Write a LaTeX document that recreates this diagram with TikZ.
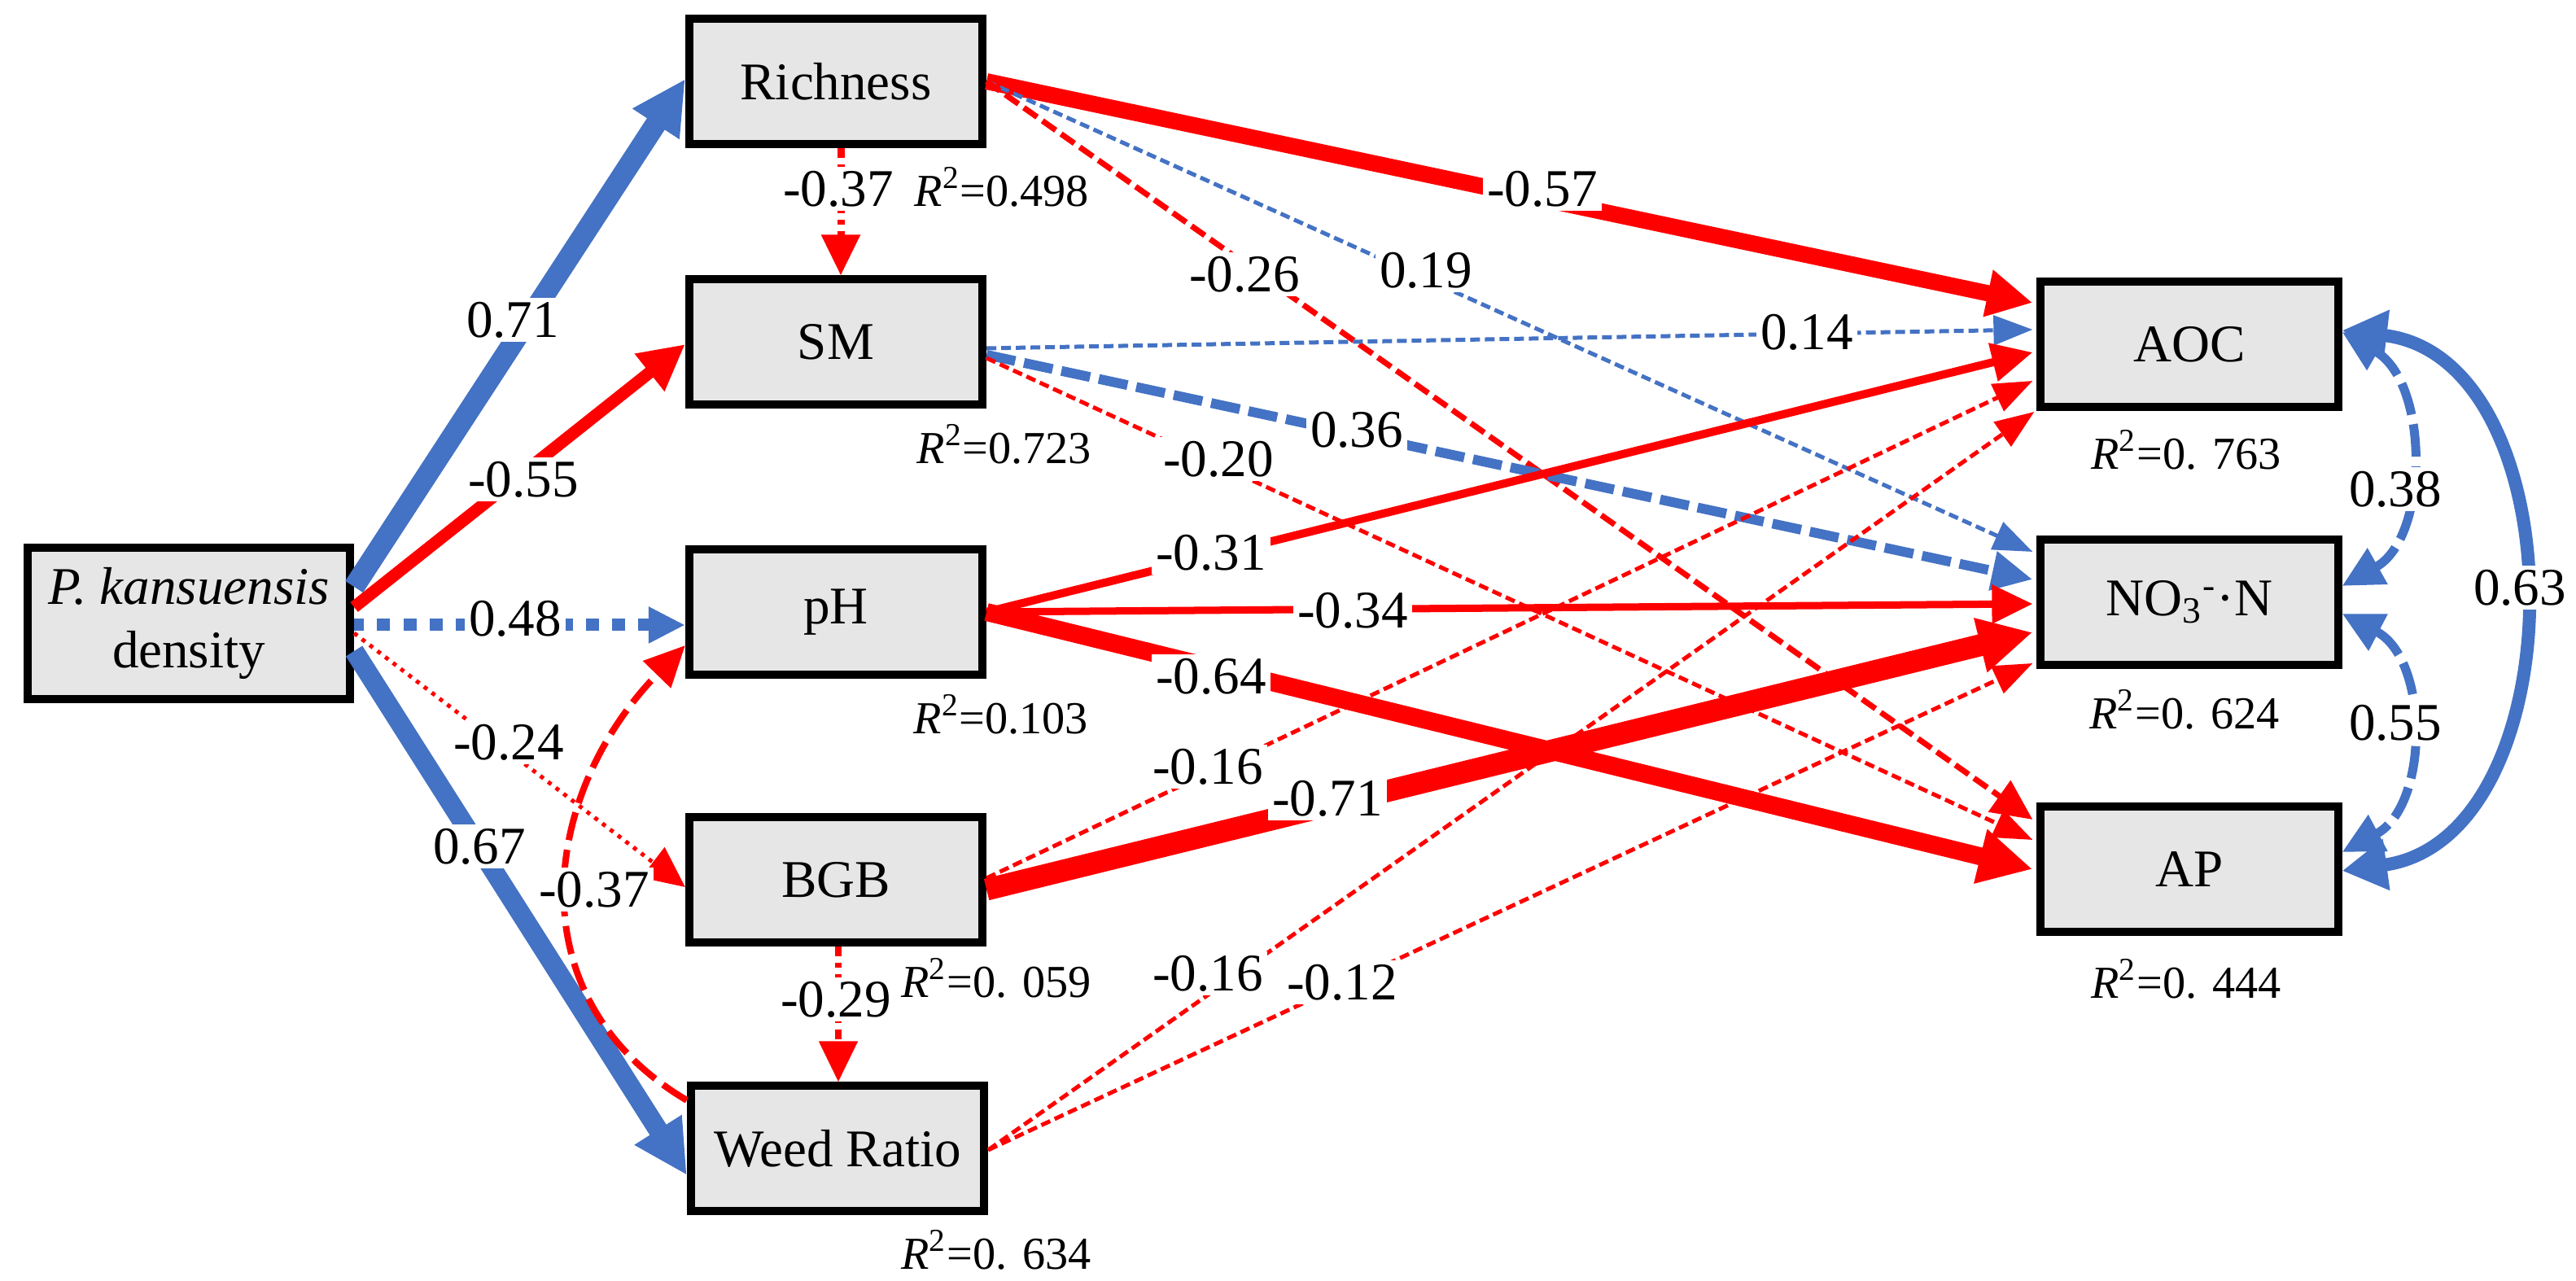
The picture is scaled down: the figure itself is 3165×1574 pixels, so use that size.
\documentclass[tikz,border=0pt]{standalone}
\usepackage{fontspec}
\setmainfont{Liberation Serif}
\usetikzlibrary{arrows.meta,calc}
\definecolor{myred}{RGB}{255,0,0}
\definecolor{myblue}{RGB}{68,114,196}
\definecolor{boxgray}{RGB}{230,230,230}
\begin{document}
\begin{tikzpicture}[x=0.01cm,y=-0.01cm,
  pbox/.style={draw=black, line width=0.1cm, fill=boxgray, minimum width=3.6cm, minimum height=1.53cm, inner sep=0pt, align=center, font=\rmfamily\fontsize{18.5}{22}\selectfont},
  rbox/.style={pbox, minimum width=3.65cm},
  elab/.style={fill=white, inner sep=1.5pt, font=\rmfamily\fontsize{18.5}{22}\selectfont},
  rsq/.style={inner sep=0pt, font=\rmfamily\fontsize{16}{19}\selectfont},
  blu/.style={draw=myblue},
  rd/.style={draw=myred},
  hugetip/.style={-{Triangle[length=0.66cm,width=0.64cm]}},
  bigtip/.style={-{Triangle[length=0.56cm,width=0.55cm]}},
  midtip/.style={-{Triangle[length=0.5cm,width=0.46cm]}},
  smalltip/.style={-{Triangle[length=0.48cm,width=0.36cm]}},
  thindash/.style={line width=0.05cm, dash pattern=on 0.12cm off 0.06cm},
  dashdot/.style={line width=0.09cm, dash pattern=on 0.12cm off 0.08cm on 0.06cm off 0.08cm}
]
\useasboundingbox (0,0) rectangle (3165,1574);

% ---------- boxes ----------
\node[pbox, minimum width=3.96cm, minimum height=1.85cm] (P) at (232,766) {\textit{P. kansuensis}\\density};
\node[pbox] (Ri) at (1027,100) {Richness};
\node[pbox] (SM) at (1027,420) {SM};
\node[pbox] (pH) at (1027,752) {pH};
\node[pbox] (BGB) at (1027,1081) {BGB};
\node[pbox] (WR) at (1029,1411) {Weed Ratio};
\node[rbox] (AOC) at (2690,423) {AOC};
\node[rbox] (NO) at (2690,740) {NO\textsubscript{3}\textsuperscript{-}·N};
\node[rbox] (AP) at (2690,1068) {AP};

% ---------- R^2 ----------
\node[rsq] (r1) at (1231,230) {\textit{R}\textsuperscript{2}=0.498};
\node[rsq] (r2) at (1234,546) {\textit{R}\textsuperscript{2}=0.723};
\node[rsq] (r3) at (1230,878) {\textit{R}\textsuperscript{2}=0.103};
\node[rsq] (r4) at (1224,1202) {\textit{R}\textsuperscript{2}=0. 059};
\node[rsq] (r5) at (1224,1536) {\textit{R}\textsuperscript{2}=0. 634};
\node[rsq] (r6) at (2686,553) {\textit{R}\textsuperscript{2}=0. 763};
\node[rsq] (r7) at (2684,872) {\textit{R}\textsuperscript{2}=0. 624};
\node[rsq] (r8) at (2686,1203) {\textit{R}\textsuperscript{2}=0. 444};

% ---------- paths from P ----------
\draw[blu, line width=0.26cm, hugetip] ($(P.east)+(0,-45)$) -- ($(Ri.west)+(0,-3)$);
\draw[rd, line width=0.15cm, bigtip] ($(P.east)+(0,-20)$) -- ($(SM.west)+(0,3)$);
\draw[blu, line width=0.15cm, dash pattern=on 0.16cm off 0.16cm, {Triangle[length=0.45cm,width=0.42cm]}-] ($(pH.west)+(0,16)$) -- ($(P.east)+(0,2)$);
\draw[rd, line width=0.05cm, dash pattern=on 0.05cm off 0.07cm, midtip] ($(P.east)+(0,12)$) -- ($(BGB.west)+(0,9)$);
\draw[blu, line width=0.24cm, hugetip] ($(P.east)+(0,34)$) -- ($(WR.west)+(0,33)$);

% ---------- middle column ----------
\draw[rd, dashdot, midtip] ($(Ri.south)+(6,0)$) -- ($(SM.north)+(6,0)$);
\draw[rd, dashdot, line width=0.08cm, midtip] ($(BGB.south)+(3,0)$) -- ($(WR.north)+(1,0)$);
\draw[rd, line width=0.08cm, dash pattern=on 0.35cm off 0.12cm, midtip] ($(WR.west)+(0,-59)$) .. controls (633,1227) and (663,977) .. ($(pH.west)+(0,41)$);

% ---------- to the right column ----------
\draw[rd, line width=0.2cm, bigtip] (Ri.east) -- ($(AOC.west)+(-5,-51)$);
\draw[blu, thindash, smalltip] (Ri.east) -- ($(NO.west)+(-5,-62)$);
\draw[rd, line width=0.07cm, dash pattern=on 0.2cm off 0.08cm, midtip] (Ri.east) -- ($(AP.west)+(-5,-61)$);
\draw[blu, thindash, smalltip] ($(SM.east)+(0,8)$) -- ($(AOC.west)+(-5,-18)$);
\draw[blu, line width=0.12cm, dash pattern=on 0.36cm off 0.11cm, midtip] ($(SM.east)+(0,16)$) -- ($(NO.west)+(-5,-28)$);
\draw[rd, thindash, smalltip] ($(SM.east)+(0,20)$) -- ($(AP.west)+(-5,-36)$);
\draw[rd, line width=0.1cm, midtip] (pH.east) -- ($(AOC.west)+(-5,10)$);
\draw[rd, line width=0.09cm, midtip] (pH.east) -- ($(NO.west)+(-5,2)$);
\draw[rd, line width=0.22cm, hugetip] (pH.east) -- ($(AP.west)+(-5,0)$);
\draw[rd, thindash, smalltip] ($(BGB.east)+(0,-2)$) -- ($(AOC.west)+(-5,45)$);
\draw[rd, line width=0.27cm, hugetip] ($(BGB.east)+(0,12)$) -- ($(NO.west)+(-5,37)$);
\draw[rd, thindash, smalltip] ($(WR.east)+(0,2)$) -- ($(AOC.west)+(-3,83)$);
\draw[rd, thindash, smalltip] ($(WR.east)+(0,2)$) -- ($(NO.west)+(-5,75)$);

% ---------- correlations ----------
\draw[blu, line width=0.11cm, dash pattern=on 0.4cm off 0.12cm, {Triangle[length=0.5cm,width=0.48cm]}-{Triangle[length=0.5cm,width=0.48cm]}] ($(AOC.east)+(0,-15)$) .. controls (2985,470) and (2985,660) .. ($(NO.east)+(0,-20)$);
\draw[blu, line width=0.11cm, dash pattern=on 0.4cm off 0.12cm, {Triangle[length=0.5cm,width=0.48cm]}-{Triangle[length=0.5cm,width=0.48cm]}] ($(NO.east)+(0,14)$) .. controls (2985,810) and (2985,990) .. ($(AP.east)+(0,-21)$);
\draw[blu, line width=0.16cm, {Triangle[length=0.55cm,width=0.6cm]}-{Triangle[length=0.55cm,width=0.6cm]}] ($(AOC.east)+(0,-17)$) .. controls (3168,440) and (3168,1030) .. ($(AP.east)+(0,2)$);

% ---------- coefficient labels ----------
\node[elab] (l1) at (630,393) {0.71};
\node[elab] (l2) at (643,589) {-0.55};
\node[elab] (l3) at (633,760) {0.48};
\node[elab] (l4) at (625,912) {-0.24};
\node[elab] (l5) at (589,1040) {0.67};
\node[elab] (l6) at (730,1093) {-0.37};
\node[elab] (l7) at (1030,232) {-0.37};
\node[elab] (l8) at (1027,1228) {-0.29};
\node[elab] (l9) at (1895,232) {-0.57};
\node[elab] (l10) at (1529,337) {-0.26};
\node[elab] (l11) at (1752,332) {0.19};
\node[elab] (l12) at (2220,408) {0.14};
\node[elab] (l13) at (1667,528) {0.36};
\node[elab] (l14) at (1497,564) {-0.20};
\node[elab] (l15) at (1488,679) {-0.31};
\node[elab] (l16) at (1662,750) {-0.34};
\node[elab] (l17) at (1488,831) {-0.64};
\node[elab] (l18) at (1484,942) {-0.16};
\node[elab] (l19) at (1631,981) {-0.71};
\node[elab] (l20) at (1484,1196) {-0.16};
\node[elab] (l21) at (1649,1207) {-0.12};
\node[elab] (l22) at (2943,601) {0.38};
\node[elab] (l23) at (2943,888) {0.55};
\node[elab] (l24) at (3096,722) {0.63};
\end{tikzpicture}
\end{document}
